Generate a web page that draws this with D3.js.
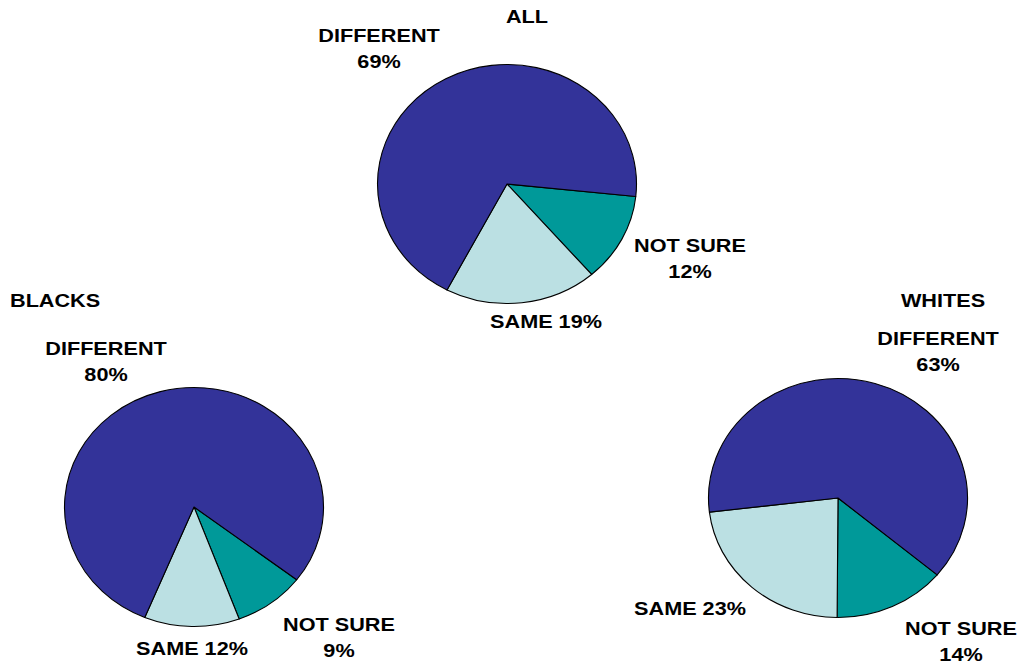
<!DOCTYPE html>
<html>
<head>
<meta charset="utf-8">
<script src="https://cdn.jsdelivr.net/npm/d3@7"></script>
<style>
  html, body { margin: 0; padding: 0; background: #fff; }
  svg { display: block; }
  text { font-family: "Liberation Sans", Arial, sans-serif; font-weight: bold; font-size: 19px; fill: #000; }
</style>
</head>
<body>
<svg id="chart" width="1021" height="665"></svg>
<script>
// ---- data ----
const categories = ["NOT SURE", "SAME", "DIFFERENT"];
const groups = ["ALL", "BLACKS", "WHITES"];
const allValues = [12, 19, 69];
const blacksValues = [9, 12, 80];
const whitesValues = [14, 23, 63];
const colors = ["#009999", "#BBE0E3", "#333399"];

// ---- layout ----
const W = 1021, H = 665;
const rx = 129.5, ry = 119.5;
const pies = [
  { name: groups[0], values: allValues, cx: 507, cy: 184, start: 96,
    title: { x: 527, y: 23, anchor: "middle" },
    labels: [
      { lines: ["NOT SURE", "12%"], x: 690, y: 252 },
      { lines: ["SAME 19%"], x: 546, y: 328 },
      { lines: ["DIFFERENT", "69%"], x: 379, y: 42 }
    ] },
  { name: groups[1], values: blacksValues, cx: 194, cy: 507, start: 127.5,
    title: { x: 10, y: 307, anchor: "start" },
    labels: [
      { lines: ["NOT SURE", "9%"], x: 339, y: 631 },
      { lines: ["SAME 12%"], x: 192, y: 655 },
      { lines: ["DIFFERENT", "80%"], x: 106, y: 355 }
    ] },
  { name: groups[2], values: whitesValues, cx: 838, cy: 498, start: 130,
    title: { x: 943, y: 307, anchor: "middle" },
    labels: [
      { lines: ["NOT SURE", "14%"], x: 961, y: 635 },
      { lines: ["SAME 23%"], x: 690, y: 615 },
      { lines: ["DIFFERENT", "63%"], x: 938, y: 345 }
    ] }
];
const lineGap = 26;
const sx = 1.14;

const svg = d3.select("#chart");
const arc = d3.arc().innerRadius(0).outerRadius(rx);

pies.forEach(p => {
  const pie = d3.pie().sort(null)
    .startAngle(p.start * Math.PI / 180)
    .endAngle(p.start * Math.PI / 180 + 2 * Math.PI);
  const arcs = pie(p.values);
  const g = svg.append("g")
    .attr("transform", `translate(${p.cx},${p.cy}) scale(1,${ry / rx})`);
  g.selectAll("path").data(arcs).join("path")
    .attr("d", arc)
    .attr("fill", (d, i) => colors[i])
    .attr("stroke", "#000")
    .attr("stroke-width", 1.1)
    .attr("vector-effect", "non-scaling-stroke")
    .attr("stroke-linejoin", "round");

  const addText = (str, x, y, anchor) => {
    svg.append("g").attr("transform", `translate(${x},${y}) scale(${sx},1)`)
      .append("text").attr("text-anchor", anchor).text(str);
  };
  addText(p.name, p.title.x, p.title.y, p.title.anchor);
  p.labels.forEach((lab, i) => {
    const cat = categories[i];
    lab.lines.forEach((ln, j) => addText(ln, lab.x, lab.y + j * lineGap, "middle"));
  });
});
</script>
</body>
</html>
